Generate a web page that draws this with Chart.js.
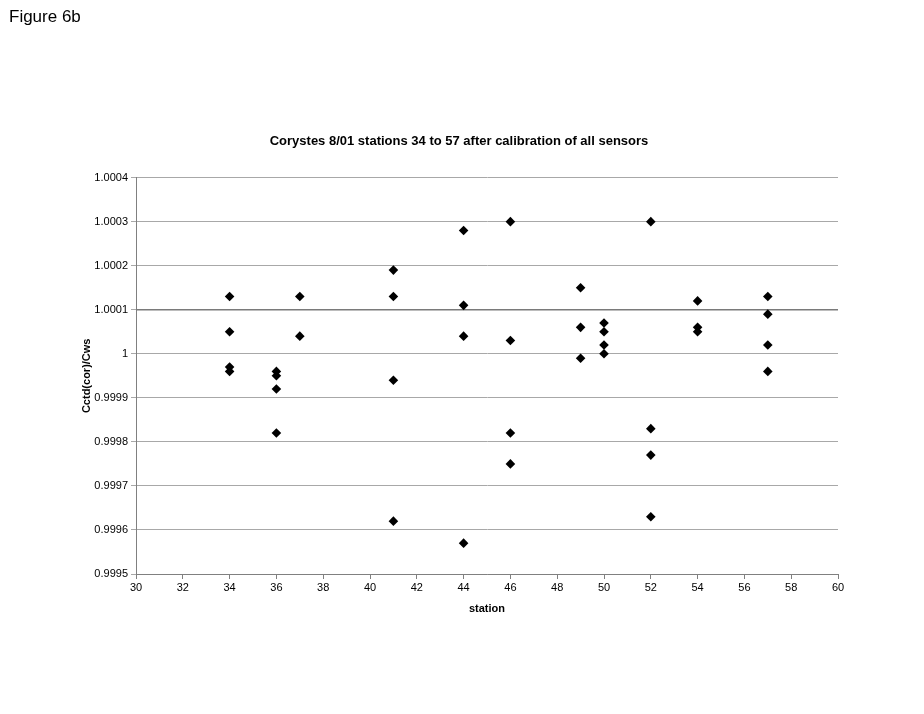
<!DOCTYPE html>
<html>
<head>
<meta charset="utf-8">
<title>Figure 6b</title>
<script src="https://cdn.jsdelivr.net/npm/chart.js@4/dist/chart.umd.min.js"></script>
<style>
  html, body { margin: 0; padding: 0; background: #fff; }
  #wrap { width: 924px; height: 714px; position: relative; }
</style>
</head>
<body>
<div id="wrap"><canvas id="chart" width="924" height="714"></canvas></div>
<script>
  // station numbers and Cctd(cor)/Cws ratios
  var stations = [34, 34, 34, 34,
                  36, 36, 36, 36,
                  37, 37,
                  41, 41, 41, 41,
                  44, 44, 44, 44,
                  46, 46, 46, 46,
                  49, 49, 49,
                  50, 50, 50, 50,
                  52, 52, 52, 52,
                  54, 54, 54,
                  57, 57, 57, 57];
  var ratios = [1.00013, 1.00005, 0.99997, 0.99996,
                0.99996, 0.99995, 0.99992, 0.99982,
                1.00013, 1.00004,
                1.00019, 1.00013, 0.99994, 0.99962,
                1.00028, 1.00011, 1.00004, 0.99957,
                1.00030, 1.00003, 0.99982, 0.99975,
                1.00015, 1.00006, 0.99999,
                1.00007, 1.00005, 1.00002, 1.00000,
                1.00030, 0.99983, 0.99977, 0.99963,
                1.00012, 1.00006, 1.00005,
                1.00013, 1.00009, 1.00002, 0.99996];
  var refX = [30, 60];
  var refY = [1.0001, 1.0001];

  var FONT = 'Liberation Sans, Arial, sans-serif';

  var figLabel = {
    id: 'figLabel',
    afterDraw: function(chart) {
      var c = chart.ctx;
      c.save();
      c.font = '17px ' + FONT;
      c.fillStyle = '#000';
      c.textBaseline = 'top';
      c.fillText('Figure 6b', 9, 9);
      c.restore();
    }
  };

  new Chart(document.getElementById('chart'), {
    type: 'scatter',
    data: {
      datasets: [{
        label: 'ref',
        type: 'line',
        data: refX.map(function(x, i) { return { x: x, y: refY[i] }; }),
        borderColor: '#7a7a7a',
        borderWidth: 1.5,
        pointRadius: 0,
        order: 2
      }, {
        label: 'Cctd(cor)/Cws',
        data: stations.map(function(s, i) { return { x: s, y: ratios[i] }; }),
        pointStyle: 'rectRot',
        pointRadius: 4.8,
        backgroundColor: '#000',
        borderColor: '#000',
        borderWidth: 0,
        order: 1
      }]
    },
    options: {
      responsive: false,
      animation: false,
      layout: { padding: { left: 80, right: 86, top: 0, bottom: 98 } },
      plugins: {
        legend: { display: false },
        tooltip: { enabled: false },
        title: {
          display: true,
          text: 'Corystes 8/01 stations 34 to 57 after calibration of all sensors',
          color: '#000',
          font: { family: FONT, size: 13, weight: 'bold' },
          padding: { top: 134, bottom: 28 }
        }
      },
      scales: {
        x: {
          type: 'linear',
          min: 30, max: 60,
          afterFit: function(s) { s.height = 42; },
          ticks: { stepSize: 2, color: '#000', font: { family: FONT, size: 11 }, padding: 2 },
          grid: { drawOnChartArea: false, drawTicks: true, tickLength: 5, color: '#808080' },
          border: { color: '#808080' },
          title: { display: true, text: 'station', color: '#000',
                   font: { family: FONT, size: 11, weight: 'bold' }, padding: { top: 2, bottom: 0 } }
        },
        y: {
          min: 0.9995, max: 1.0004,
          afterFit: function(s) { s.width = 56; },
          ticks: {
            stepSize: 0.0001, color: '#000', font: { family: FONT, size: 11 }, padding: 3,
            callback: function(v) { return String(Number(v.toFixed(4))); }
          },
          grid: { color: '#a8a8a8', tickLength: 5 },
          border: { color: '#808080' },
          title: { display: true, text: 'Cctd(cor)/Cws', color: '#000',
                   font: { family: FONT, size: 11, weight: 'bold' }, padding: { top: 0, bottom: 0 } }
        }
      }
    },
    plugins: [figLabel]
  });
</script>
</body>
</html>
